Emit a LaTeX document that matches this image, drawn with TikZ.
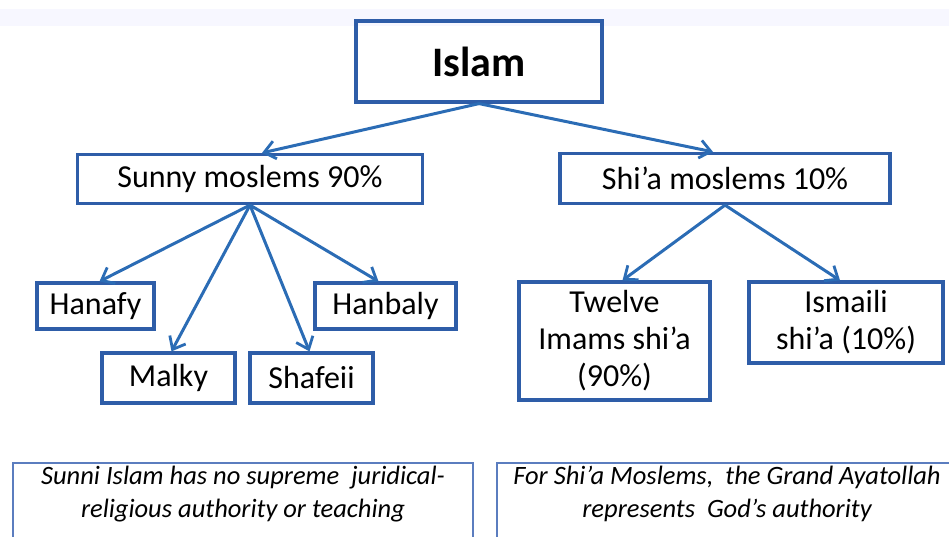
\documentclass[tikz,border=0pt]{standalone}
\usepackage{fontspec}
\setmainfont{Carlito}
\usetikzlibrary{arrows.meta}
\definecolor{boxblue}{HTML}{2E5DA8}
\definecolor{arrowblue}{HTML}{2B6CB5}
\definecolor{noteblue}{HTML}{5B7DBF}
\begin{document}
\begin{tikzpicture}[x=1pt, y=-1pt,
    box/.style={draw=boxblue, line width=3.2pt, inner sep=0pt, align=center, font=\fontsize{32}{37}\selectfont},
    note/.style={draw=noteblue, line width=2pt, anchor=north, inner sep=3pt, align=center, font=\fontsize{26.5}{33}\selectfont\itshape},
    branch/.style={draw=arrowblue, line width=3pt, -{Straight Barb[length=11pt, width=18pt, line width=2.8pt]}}]
    \useasboundingbox (0,0) rectangle (949,537);
    \clip (0,0) rectangle (949,537);
    \fill[blue!3] (0,9) rectangle (949,26);

    \node[box, minimum width=246, minimum height=81, font=\fontsize{42}{48}\selectfont\bfseries] (islam) at (479,61.5) {Islam};
    \node[box, minimum width=345, minimum height=49] (sunny) at (250,179) {Sunny moslems 90\%};
    \node[box, minimum width=330, minimum height=50] (shia) at (725,178.5) {Shi’a moslems 10\%};
    \node[box, minimum width=117, minimum height=46] (hanafy) at (95.5,306) {Hanafy};
    \node[box, minimum width=141, minimum height=46] (hanbaly) at (385.5,306) {Hanbaly};
    \node[box, minimum width=133, minimum height=50] (malky) at (168.5,378) {Malky};
    \node[box, minimum width=123, minimum height=50] (shafeii) at (311.5,378) {Shafeii};
    \node[box, minimum width=191, minimum height=118] (twelve) at (614.5,341) {Twelve\\Imams shi’a\\(90\%)};
    \node[box, minimum width=194, minimum height=81] (ismaili) at (846,322.5) {Ismaili\\shi’a (10\%)};
    \node[note, minimum width=460] (sunninote) at (243,462) {Sunni Islam has no supreme\ \ juridical-\\religious authority or teaching\\[40pt]\mbox{}};
    \node[note, minimum width=460] (shianote) at (727,462) {For Shi’a Moslems,\ \ the Grand Ayatollah\\represents\ \ God’s authority\\[40pt]\mbox{}};

    \draw[branch] (islam.south) -- ([xshift=12pt]sunny.north);
    \draw[branch] (islam.south) -- ([xshift=-12pt]shia.north);
    \draw[branch] (sunny.south) -- ([xshift=4pt]hanafy.north);
    \draw[branch] (sunny.south) -- ([xshift=3pt]malky.north);
    \draw[branch] (sunny.south) -- ([xshift=-2pt]shafeii.north);
    \draw[branch] (sunny.south) -- ([xshift=-7pt]hanbaly.north);
    \draw[branch] (shia.south) -- ([xshift=8pt]twelve.north);
    \draw[branch] (shia.south) -- ([xshift=-6pt]ismaili.north);
\end{tikzpicture}
\end{document}
